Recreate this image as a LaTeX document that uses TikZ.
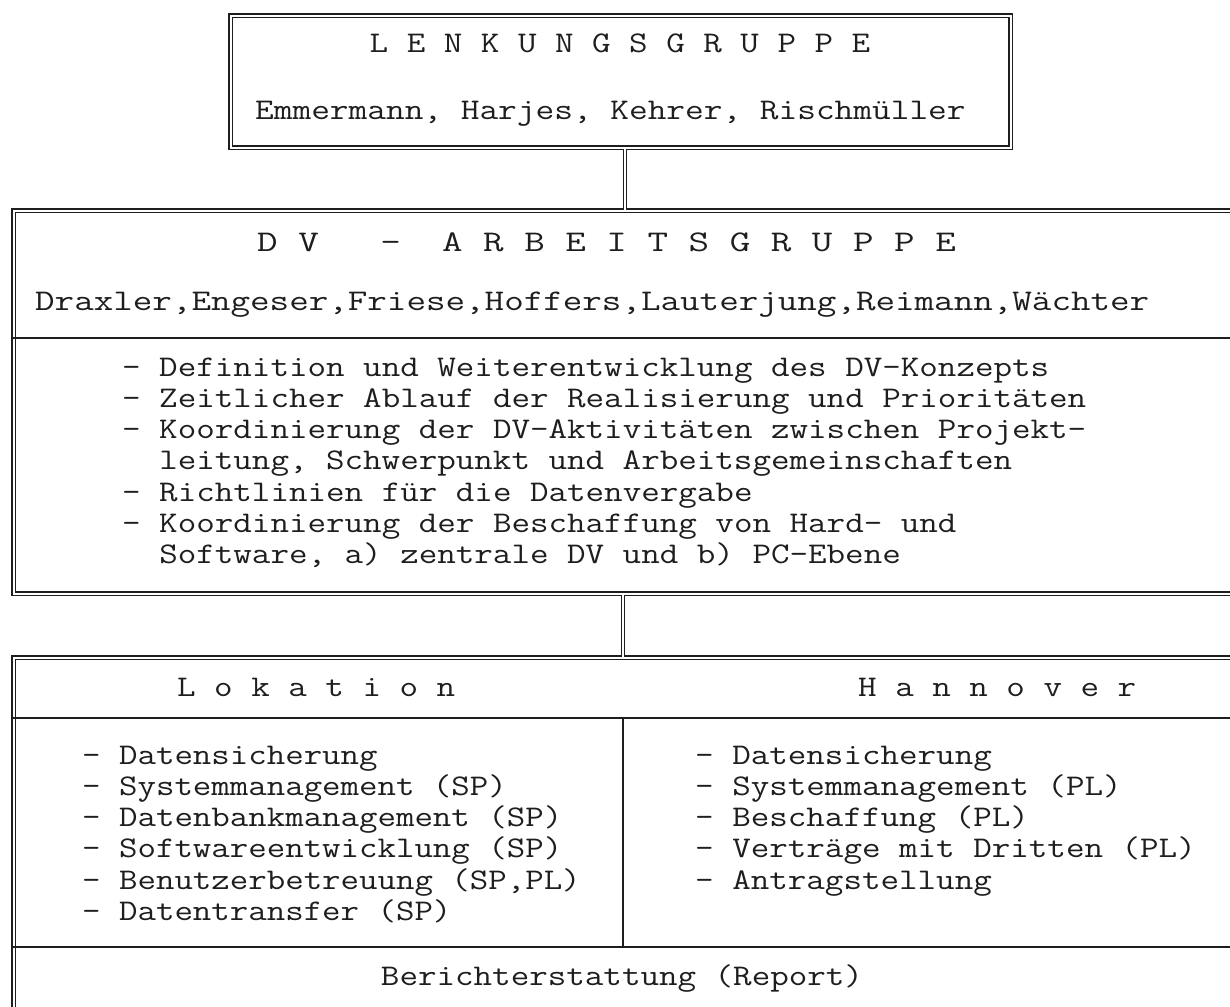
\documentclass[tikz,border=0pt]{standalone}
\definecolor{ink}{HTML}{1E1E1E}
\newcommand\Tx[2][1.2]{\scalebox{#1}[1]{#2}}
\begin{document}
\begin{tikzpicture}[x=1pt,y=-1pt,
  dbl/.style={draw=ink, line width=1.6pt, double=white, double distance=1.6pt},
  sgl/.style={draw=ink, line width=1.4pt},
  txt/.style={anchor=base west, inner sep=0pt, text=ink, font=\ttfamily\fontsize{30}{31.3}\selectfont},
  ctxt/.style={txt, anchor=base}]
\useasboundingbox (0,0) rectangle (1230,1006);
\clip (0,0) rectangle (1230,1006);
\fill[white] (0,0) rectangle (1230,1006);

% boxes
\node[dbl, minimum width=780pt, minimum height=132pt, inner sep=0pt, anchor=north west] (lenk) at (230,15) {};
\node[dbl, minimum width=1227pt, minimum height=383pt, inner sep=0pt, anchor=north west] (dv) at (13,210) {};
\node[dbl, minimum width=1227pt, minimum height=400pt, inner sep=0pt, anchor=north west] (lok) at (13,657) {};

% connectors
\draw[dbl] (lenk.south -| 625,0) -- (625,0 |- dv.north);
\draw[dbl] (dv.south -| 623,0) -- (623,0 |- lok.north);

% dividers
\coordinate (d1l) at (dv.west |- 0,338);
\coordinate (d1r) at (dv.east |- 0,338);
\draw[sgl] (d1l) -- (d1r);
\coordinate (d2l) at (lok.west |- 0,718);
\coordinate (d2r) at (lok.east |- 0,718);
\draw[sgl] (d2l) -- (d2r);
\coordinate (d3l) at (lok.west |- 0,947);
\coordinate (d3r) at (lok.east |- 0,947);
\draw[sgl] (d3l) -- (d3r);
\coordinate (ct) at (623,718);
\coordinate (cb) at (623,947);
\draw[sgl] (ct) -- (cb);

% texts top box
\node[ctxt] (lh) at (620,53) {\Tx{L~E~N~K~U~N~G~S~G~R~U~P~P~E}};
\node[txt] (ln) at (255,120) {\Tx[1.21]{Emmermann, Harjes, Kehrer, Rischmüller}};

% texts middle box
\node[txt] (dh) at (257,251) {\Tx[1.33]{D~V~~~-~~A~R~B~E~I~T~S~G~R~U~P~P~E}};
\node[txt] (dn) at (35,310) {\Tx[1.265]{Draxler,Engeser,Friese,Hoffers,Lauterjung,Reimann,Wächter}};
\foreach \t [count=\i] in {
  {- Definition und Weiterentwicklung des DV-Konzepts},
  {- Zeitlicher Ablauf der Realisierung und Prioritäten},
  {- Koordinierung der DV-Aktivitäten zwischen Projekt-},
  {~~leitung, Schwerpunkt und Arbeitsgemeinschaften},
  {- Richtlinien für die Datenvergabe},
  {- Koordinierung der Beschaffung von Hard- und},
  {~~Software, a) zentrale DV und b) PC-Ebene}}
  \node[txt] (m\i) at (122,{376+31.3*(\i-1)}) {\Tx{\t}};

% texts bottom box
\node[txt] (lkh) at (177,696) {\Tx{L~o~k~a~t~i~o~n}};
\node[txt] (hnh) at (858,696) {\Tx{H~a~n~n~o~v~e~r}};
\foreach \t [count=\i] in {
  {- Datensicherung},
  {- Systemmanagement (SP)},
  {- Datenbankmanagement (SP)},
  {- Softwareentwicklung (SP)},
  {- Benutzerbetreuung (SP,PL)},
  {- Datentransfer (SP)}}
  \node[txt] (l\i) at (82,{764+31.3*(\i-1)}) {\Tx[1.195]{\t}};
\foreach \t [count=\i] in {
  {- Datensicherung},
  {- Systemmanagement (PL)},
  {- Beschaffung (PL)},
  {- Verträge mit Dritten (PL)},
  {- Antragstellung}}
  \node[txt] (r\i) at (695,{764+31.3*(\i-1)}) {\Tx{\t}};
\node[ctxt] (rep) at (622,985) {\Tx{Berichterstattung (Report)}};
\end{tikzpicture}
\end{document}
